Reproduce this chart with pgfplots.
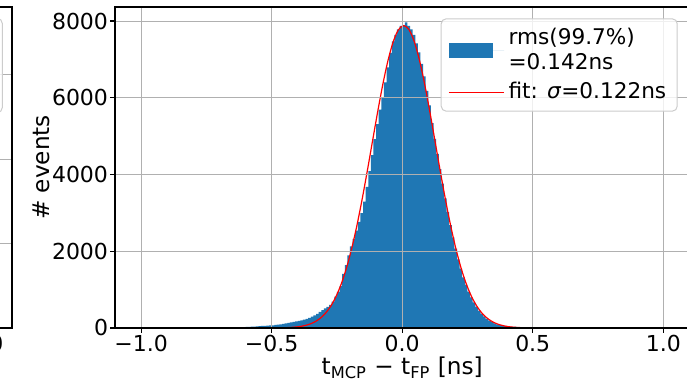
\documentclass[border=0pt]{standalone}
\usepackage{fontspec}
\setmainfont{DejaVu Sans}
\usepackage{pgfplots}
\pgfplotsset{compat=1.18}
\usepackage{pgfplotstable}
\definecolor{tabblue}{HTML}{1F77B4}
\definecolor{gridgray}{HTML}{B0B0B0}
\definecolor{leggray}{HTML}{CCCCCC}

% histogram: left bin edge, count (bin width 0.01)
\pgfplotstableread{
x y
-1.00 0
-0.99 1
-0.98 0
-0.97 0
-0.96 1
-0.95 0
-0.94 0
-0.93 2
-0.92 0
-0.91 1
-0.90 0
-0.89 1
-0.88 2
-0.87 0
-0.86 1
-0.85 1
-0.84 0
-0.83 2
-0.82 1
-0.81 3
-0.80 1
-0.79 2
-0.78 4
-0.77 3
-0.76 5
-0.75 4
-0.74 6
-0.73 7
-0.72 9
-0.71 8
-0.70 10
-0.69 12
-0.68 10
-0.67 13
-0.66 15
-0.65 14
-0.64 17
-0.63 19
-0.62 21
-0.61 24
-0.60 26
-0.59 28
-0.58 33
-0.57 38
-0.56 43
-0.55 48
-0.54 52
-0.53 57
-0.52 62
-0.51 66
-0.50 71
-0.49 78
-0.48 86
-0.47 95
-0.46 106
-0.45 118
-0.44 132
-0.43 148
-0.42 160
-0.41 172
-0.40 185
-0.39 200
-0.38 218
-0.37 240
-0.36 265
-0.35 295
-0.34 330
-0.33 370
-0.32 420
-0.31 468
-0.30 508
-0.29 548
-0.28 605
-0.27 690
-0.26 820
-0.25 940
-0.24 1100
-0.23 1410
-0.22 1640
-0.21 1890
-0.20 2125
-0.19 2325
-0.18 2540
-0.17 2765
-0.16 2995
-0.15 3295
-0.14 3680
-0.13 4085
-0.12 4505
-0.11 4920
-0.10 5310
-0.09 5690
-0.08 5990
-0.07 6400
-0.06 6790
-0.05 7170
-0.04 7470
-0.03 7640
-0.02 7785
-0.01 7870
0.00 7890
0.01 7967
0.02 7870
0.03 7780
0.04 7640
0.05 7420
0.06 7180
0.07 6880
0.08 6560
0.09 6180
0.10 5800
0.11 5340
0.12 4930
0.13 4540
0.14 4140
0.15 3760
0.16 3380
0.17 3020
0.18 2680
0.19 2360
0.20 2070
0.21 1790
0.22 1550
0.23 1320
0.24 1130
0.25 950
0.26 800
0.27 665
0.28 550
0.29 450
0.30 370
0.31 300
0.32 240
0.33 195
0.34 155
0.35 122
0.36 96
0.37 75
0.38 60
0.39 48
0.40 40
0.41 34
0.42 30
0.43 27
0.44 25
0.45 22
0.46 20
0.47 18
0.48 16
0.49 15
0.50 12
0.51 11
0.52 10
0.53 9
0.54 8
0.55 8
0.56 7
0.57 7
0.58 6
0.59 6
0.60 5
0.61 6
0.62 4
0.63 4
0.64 5
0.65 4
0.66 4
0.67 3
0.68 3
0.69 20
0.70 18
0.71 22
0.72 2
0.73 18
0.74 20
0.75 3
0.76 2
0.77 19
0.78 21
0.79 2
0.80 3
0.81 2
0.82 3
0.83 20
0.84 18
0.85 2
0.86 3
0.87 2
0.88 21
0.89 19
0.90 22
0.91 18
0.92 2
0.93 1
0.94 3
0.95 2
0.96 20
0.97 18
0.98 21
0.99 1
1.00 1
}\histdata

% gaussian fit curve
\pgfplotstableread{
x y
-1.000 0
-0.600 0
-0.494 2
-0.474 3
-0.454 6
-0.434 12
-0.414 21
-0.394 36
-0.374 62
-0.354 101
-0.334 162
-0.314 253
-0.294 383
-0.274 566
-0.254 814
-0.234 1138
-0.214 1551
-0.194 2056
-0.174 2654
-0.154 3335
-0.134 4080
-0.114 4858
-0.094 5632
-0.074 6356
-0.054 6982
-0.034 7468
-0.014 7775
0.006 7880
0.026 7775
0.046 7468
0.066 6982
0.086 6356
0.106 5632
0.126 4858
0.146 4080
0.166 3335
0.186 2654
0.206 2056
0.226 1551
0.246 1138
0.266 814
0.286 566
0.306 383
0.326 253
0.346 162
0.366 101
0.386 62
0.406 36
0.426 21
0.446 12
0.466 6
0.486 3
0.506 2
0.600 0
1.000 0
}\fitdata

\begin{document}
\begin{tikzpicture}
\useasboundingbox (0,0) rectangle (343.5pt,191.5pt);
\clip (0,0) rectangle (343.5pt,191.5pt);
% neighbouring panel (only its right edge is in view)
\begin{axis}[
  at={(6pt,27.5pt)}, anchor=south east,
  scale only axis, width=287.2pt, height=160.5pt,
  xmin=-1.1, xmax=1.1, ymin=0, ymax=3.8,
  xtick={1.0}, xticklabels={1.0},
  ytick={0,1,2,3}, yticklabels={},
  grid=major, grid style={gridgray, line width=0.5pt},
  axis line style={line width=0.55pt},
  tick align=outside, tick pos=left, major tick length=2.3pt,
  tick style={black, line width=0.55pt},
  tick label style={font=\fontsize{11pt}{13pt}\selectfont, inner sep=1pt},
]
\addplot[draw=none] coordinates {(0,0)};
\end{axis}
\draw[leggray, line width=0.5pt, rounded corners=2.5pt, fill=white, fill opacity=0.8] (-100pt,135.2pt) rectangle (1.15pt,182.3pt);

\begin{axis}[
  at={(57.5pt,27.5pt)}, anchor=south west,
  scale only axis, width=287.2pt, height=160.5pt,
  xmin=-1.1, xmax=1.1, ymin=0, ymax=8365,
  xtick={-1,-0.5,0,0.5,1}, xticklabels={−1.0,−0.5,0.0,0.5,1.0},
  ytick={0,2000,4000,6000,8000}, yticklabels={0,2000,4000,6000,8000},
  scaled y ticks=false,
  grid=major, grid style={gridgray, line width=0.5pt},
  axis on top,
  axis line style={line width=0.55pt},
  tick align=outside, tick pos=left, major tick length=2.3pt,
  tick style={black, line width=0.55pt},
  tick label style={font=\fontsize{11pt}{13pt}\selectfont, inner sep=1pt},
  label style={font=\fontsize{11.6pt}{13.6pt}\selectfont},
  xlabel={t\textsubscript{MCP} − t\textsubscript{FP} [ns]},
  ylabel={\# events},
  xlabel style={at={(axis description cs:0.5,-0.1464)}, anchor=base},
  ylabel style={at={(axis description cs:-0.1132,0.5)}, rotate=0, anchor=base},
  legend style={
    at={(rel axis cs:0.9797,0.9648)}, anchor=north east,
    draw=leggray, line width=0.5pt, rounded corners=2.5pt,
    fill=white, fill opacity=0.8, text opacity=1,
    font=\fontsize{10.8pt}{12.6pt}\selectfont,
    inner xsep=3.5pt, inner ysep=2.6pt, row sep=1pt,
    cells={anchor=west, align=left},
  },
]
\addplot[const plot, fill=tabblue, draw=none,
  legend image code/.code={\fill[tabblue, sharp corners, fill opacity=1] (0pt,-3.85pt) rectangle (22.3pt,3.85pt); \path (0pt,0pt) -- (27.6pt,0pt);}]
  table[x=x, y=y] {\histdata} \closedcycle;
\addlegendentry{rms(99.7\%)\\=0.142ns}
\addplot[red, line width=0.6pt, smooth,
  legend image code/.code={\draw[red, line width=0.6pt, draw opacity=1] (0pt,0pt) -- (22.3pt,0pt); \path (0pt,0pt) -- (27.6pt,0pt);}]
  table[x=x, y=y] {\fitdata};
\addlegendentry{fit: \textit{σ}=0.122ns}
\end{axis}
\end{tikzpicture}
\end{document}
